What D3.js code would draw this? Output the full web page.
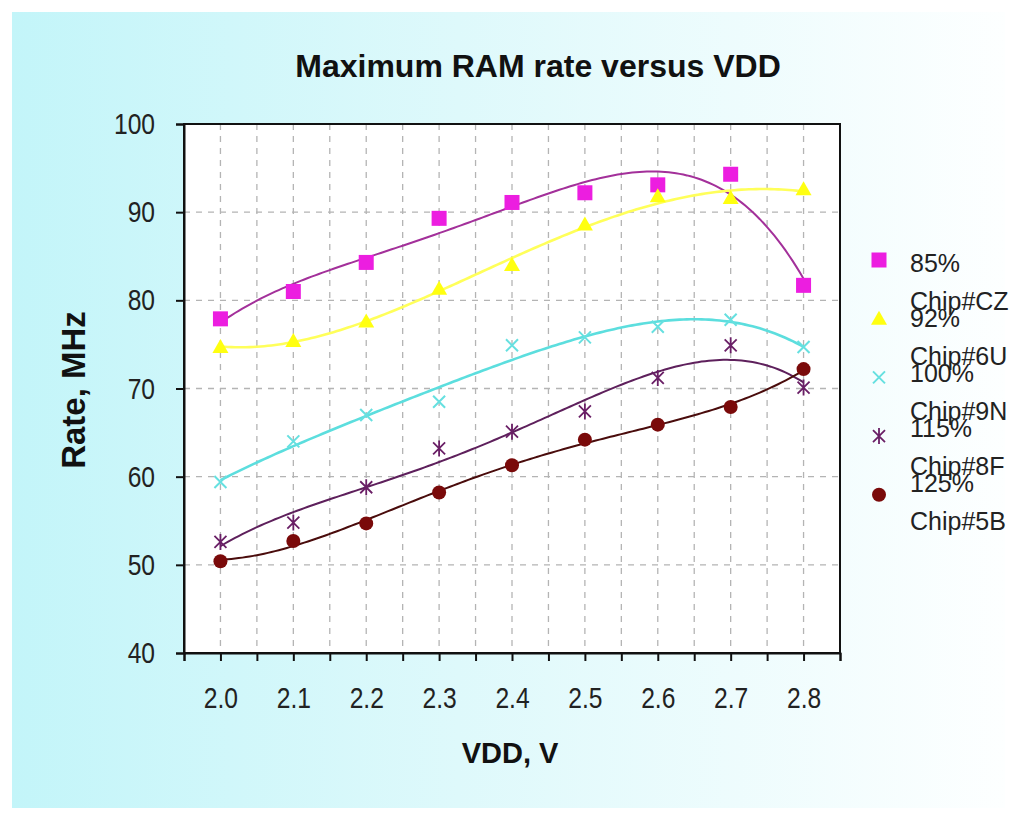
<!DOCTYPE html>
<html>
<head>
<meta charset="utf-8">
<script src="https://cdn.jsdelivr.net/npm/d3@7"></script>
<style>
  html, body { margin: 0; padding: 0; background: #ffffff; }
  svg { display: block; }
</style>
</head>
<body>
<svg id="chart" width="1017" height="820"></svg>
<script>
// ---- data ----
const vdd = [2.0, 2.1, 2.2, 2.3, 2.4, 2.5, 2.6, 2.7, 2.8];
const chipCZ = [77.9, 81.0, 84.3, 89.3, 91.1, 92.2, 93.1, 94.3, 81.7];
const chip6U = [74.7, 75.4, 77.6, 81.3, 84.0, 88.6, 91.8, 91.6, 92.6];
const chip9N = [59.4, 64.0, 67.0, 68.5, 74.9, 75.8, 77.0, 77.8, 74.7];
const chip8F = [52.6, 54.8, 58.8, 63.2, 65.1, 67.4, 71.2, 74.9, 70.1];
const chip5B = [50.4, 52.7, 54.7, 58.2, 61.3, 64.2, 65.9, 67.9, 72.2];
const seriesNames = ["85%", "92%", "100%", "115%", "125%"];
const seriesChips = ["Chip#CZ", "Chip#6U", "Chip#9N", "Chip#8F", "Chip#5B"];
const yTicks = [40, 50, 60, 70, 80, 90, 100];
const xLabels = ["2.0", "2.1", "2.2", "2.3", "2.4", "2.5", "2.6", "2.7", "2.8"];

const seriesData = [chipCZ, chip6U, chip9N, chip8F, chip5B];
const markerKinds = ["square", "triangle", "x", "star", "circle"];
const markerFill = ["#ec1ee0", "#ffff10", "#66e0e0", "#6a1f66", "#7a0a0a"];
const lineColor = ["#a3309a", "#ffff5a", "#5cdede", "#5e205c", "#4a0c0c"];
const lineWidth = [2, 2.6, 2.6, 2, 2];
const trendOrder = 4;

const svg = d3.select("#chart");
const W = 1017, H = 820;

// background gradient
const defs = svg.append("defs");
const grad = defs.append("linearGradient").attr("id", "bg").attr("x1", "0").attr("x2", "1").attr("y1", "0").attr("y2", "0");
grad.append("stop").attr("offset", "0%").attr("stop-color", "#c3f5f9");
grad.append("stop").attr("offset", "45%").attr("stop-color", "#def9fb");
grad.append("stop").attr("offset", "100%").attr("stop-color", "#fdffff");
svg.append("rect").attr("x", 0).attr("y", 0).attr("width", W).attr("height", H).attr("fill", "#ffffff");
svg.append("rect").attr("x", 12).attr("y", 12).attr("width", 993).attr("height", 796).attr("fill", "url(#bg)");

// scales
const x = d3.scaleLinear().domain([1.95, 2.85]).range([184, 840]);
const y = d3.scaleLinear().domain([40, 100]).range([653, 124]);
const xTickVals = d3.range(0, 19).map(i => +(1.95 + i * 0.05).toFixed(2));

// plot area
svg.append("rect").attr("x", x(1.95)).attr("y", y(100)).attr("width", x(2.85) - x(1.95)).attr("height", y(40) - y(100)).attr("fill", "#ffffff");

// grid
const grid = svg.append("g").attr("stroke", "#b4b4b4").attr("stroke-width", 1.3).attr("stroke-dasharray", "6,6");
grid.selectAll("line.v").data(xTickVals.slice(1, -1)).join("line")
  .attr("x1", d => x(d)).attr("x2", d => x(d)).attr("y1", y(100)).attr("y2", y(40));
grid.selectAll("line.h").data(yTicks.filter(v => v > 40 && v < 100)).join("line").attr("class", "h")
  .attr("x1", x(1.95)).attr("x2", x(2.85)).attr("y1", d => y(d)).attr("y2", d => y(d));

// border
svg.append("rect").attr("x", x(1.95)).attr("y", y(100)).attr("width", x(2.85) - x(1.95)).attr("height", y(40) - y(100))
  .attr("fill", "none").attr("stroke", "#111").attr("stroke-width", 2);

const baseFont = "'Liberation Sans', Arial, sans-serif";

// axes
const yAxis = d3.axisLeft(y).tickValues(yTicks).tickSize(8).tickPadding(21).tickFormat(d3.format("d"));
const gy = svg.append("g").attr("transform", `translate(${x(1.95)},0)`).call(yAxis);
const xAxis = d3.axisBottom(x).tickValues(xTickVals).tickSize(8).tickPadding(26)
  .tickFormat(d => { const i = vdd.findIndex(v => Math.abs(v - d) < 1e-6); return i >= 0 ? xLabels[i] : ""; });
const gx = svg.append("g").attr("transform", `translate(0,${y(40)})`).call(xAxis);
[gx, gy].forEach(g => {
  g.select(".domain").attr("stroke", "#111").attr("stroke-width", 2);
  g.selectAll(".tick line").attr("stroke", "#111").attr("stroke-width", 2);
  g.selectAll(".tick text").attr("font-family", baseFont).attr("font-size", 30).attr("fill", "#222")
    .each(function () {
      const len = this.getComputedTextLength();
      if (len > 0) d3.select(this).attr("textLength", len * 0.82).attr("lengthAdjust", "spacingAndGlyphs");
    });
});

// titles
svg.append("text").attr("x", 538).attr("y", 77).attr("text-anchor", "middle")
  .attr("font-family", baseFont).attr("font-weight", "bold").attr("font-size", 32).attr("fill", "#111")
  .text("Maximum RAM rate versus VDD");
svg.append("text").attr("x", 510).attr("y", 763).attr("text-anchor", "middle")
  .attr("font-family", baseFont).attr("font-weight", "bold").attr("font-size", 29).attr("fill", "#111")
  .text("VDD, V");
svg.append("text").attr("transform", "translate(85,390) rotate(-90)").attr("text-anchor", "middle")
  .attr("font-family", baseFont).attr("font-weight", "bold").attr("font-size", 33).attr("fill", "#111")
  .text("Rate, MHz");

// polynomial trendline (least squares)
function polyfit(xs, ys, deg) {
  const n = deg + 1;
  const A = Array.from({length: n}, () => new Array(n).fill(0));
  const b = new Array(n).fill(0);
  xs.forEach((xv, k) => {
    for (let i = 0; i < n; i++) {
      b[i] += ys[k] * Math.pow(xv, i);
      for (let j = 0; j < n; j++) A[i][j] += Math.pow(xv, i + j);
    }
  });
  for (let c = 0; c < n; c++) {
    let p = c;
    for (let r = c + 1; r < n; r++) if (Math.abs(A[r][c]) > Math.abs(A[p][c])) p = r;
    [A[c], A[p]] = [A[p], A[c]]; [b[c], b[p]] = [b[p], b[c]];
    for (let r = 0; r < n; r++) {
      if (r === c) continue;
      const f = A[r][c] / A[c][c];
      for (let j = c; j < n; j++) A[r][j] -= f * A[c][j];
      b[r] -= f * b[c];
    }
  }
  return b.map((v, i) => v / A[i][i]);
}
const toT = v => (v - 2.4) / 0.4;
const line = d3.line().x(d => x(d[0])).y(d => y(d[1])).curve(d3.curveLinear);

seriesData.forEach((vals, si) => {
  const coef = polyfit(vdd.map(toT), vals, trendOrder);
  const pts = d3.range(0, 161).map(i => {
    const xv = 2.0 + i * 0.005;
    const t = toT(xv);
    let s = 0; coef.forEach((c, k) => s += c * Math.pow(t, k));
    return [xv, s];
  });
  svg.append("path").datum(pts).attr("d", line).attr("fill", "none")
    .attr("stroke", lineColor[si]).attr("stroke-width", lineWidth[si]);
});

function drawMarker(g, kind, cx, cy, color) {
  if (kind === "square") {
    g.append("rect").attr("x", cx - 7.5).attr("y", cy - 7.5).attr("width", 15).attr("height", 15).attr("fill", color);
  } else if (kind === "triangle") {
    g.append("path").attr("d", `M${cx},${cy - 8}L${cx + 8},${cy + 6}L${cx - 8},${cy + 6}Z`).attr("fill", color);
  } else if (kind === "x") {
    g.append("path").attr("d", `M${cx - 6},${cy - 6}L${cx + 6},${cy + 6}M${cx - 6},${cy + 6}L${cx + 6},${cy - 6}`)
      .attr("stroke", color).attr("stroke-width", 2).attr("fill", "none");
  } else if (kind === "star") {
    g.append("path").attr("d", `M${cx - 6},${cy - 6}L${cx + 6},${cy + 6}M${cx - 6},${cy + 6}L${cx + 6},${cy - 6}M${cx},${cy - 8}L${cx},${cy + 8}`)
      .attr("stroke", color).attr("stroke-width", 1.8).attr("fill", "none");
  } else {
    g.append("circle").attr("cx", cx).attr("cy", cy).attr("r", 7).attr("fill", color);
  }
}

// markers
seriesData.forEach((vals, si) => {
  const g = svg.append("g");
  vals.forEach((v, i) => drawMarker(g, markerKinds[si], x(vdd[i]), y(v), markerFill[si]));
});

// legend
const lg = svg.append("g").attr("font-family", baseFont).attr("font-size", 25).attr("fill", "#222");
seriesNames.forEach((name, i) => {
  drawMarker(lg, markerKinds[i], 879, 260 + 58.7 * i, markerFill[i]);
  lg.append("text").attr("x", 910).attr("y", 272 + 55 * i).text(name);
  lg.append("text").attr("x", 910).attr("y", 310 + 55 * i).text(seriesChips[i]);
});
</script>
</body>
</html>
